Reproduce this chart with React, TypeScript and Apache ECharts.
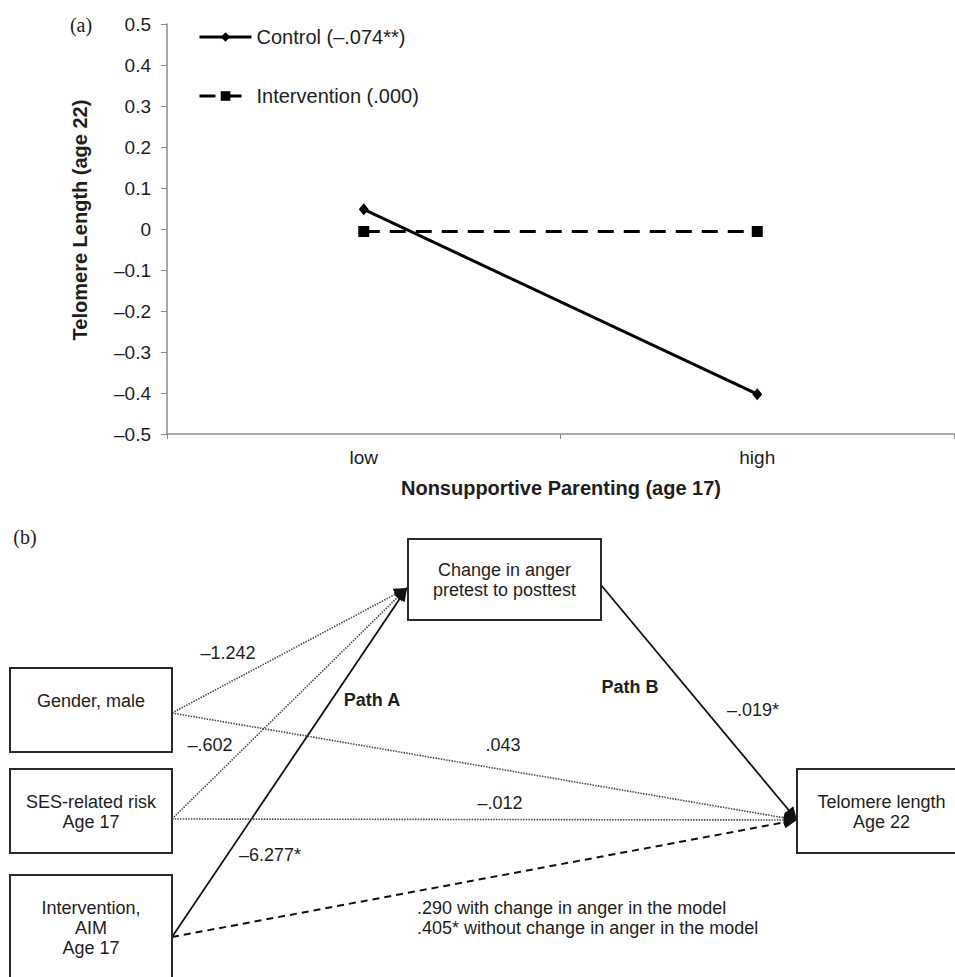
import React, { useEffect, useRef } from 'react';
import * as echarts from 'echarts';

// ---------- Panel (a) data ----------
const categories = ['low', 'high'];
const controlValues = [0.048, -0.403];
const interventionValues = [-0.006, -0.006];
const seriesNames = ['Control (–.074**)', 'Intervention (.000)'];
const yMin = -0.5;
const yMax = 0.5;
const yInterval = 0.1;
const xAxisTitle = 'Nonsupportive Parenting (age 17)';
const yAxisTitle = 'Telomere Length (age 22)';

// ---------- Panel (b) data ----------
const nodeIds = ['change', 'gender', 'ses', 'aim', 'telomere'];
const nodeLabels = [
  'Change in anger\npretest to posttest',
  'Gender, male',
  'SES-related risk\nAge 17',
  'Intervention,\nAIM\nAge 17',
  'Telomere length\nAge 22',
];
const edgeFrom = ['gender', 'ses', 'aim', 'gender', 'ses', 'aim', 'change'];
const edgeTo = ['change', 'change', 'change', 'telomere', 'telomere', 'telomere', 'telomere'];
const edgeKinds = ['dotted', 'dotted', 'solid', 'dotted', 'dotted', 'dashed', 'solid'];
const edgeCoefficients = [
  '–1.242',
  '–.602',
  '–6.277*',
  '.043',
  '–.012',
  '.290 with change in anger in the model\n.405* without change in anger in the model',
  '–.019*',
];
const pathNames = ['Path A', 'Path B'];

// ---------- Layout (positions / styles) ----------
const FONT = '"Liberation Sans", Arial, Helvetica, sans-serif';
const SERIF = '"Liberation Serif", "Times New Roman", serif';
const INK = '#1e1e1e';

const boxLayout: Record<string, { x: number; y: number; w: number; h: number; textTop: number }> = {
  change: { x: 408, y: 539, w: 193, h: 81, textTop: 560 },
  gender: { x: 10, y: 668, w: 162, h: 84, textTop: 691 },
  ses: { x: 10, y: 769, w: 162, h: 84, textTop: 792 },
  aim: { x: 10, y: 875, w: 162, h: 115, textTop: 898 },
  telomere: { x: 797, y: 769, w: 175, h: 84, textTop: 792 },
};
const outAnchor: Record<string, [number, number]> = {
  gender: [172, 713],
  ses: [172, 819],
  aim: [172, 937],
  change: [601, 585],
};
const inAnchor: Record<string, [number, number]> = {
  change: [407, 588],
  telomere: [797, 820],
};
const coefPos: Array<{ x: number; y: number; align: string }> = [
  { x: 228, y: 653, align: 'center' },
  { x: 210, y: 745, align: 'center' },
  { x: 270, y: 855, align: 'center' },
  { x: 503, y: 745, align: 'center' },
  { x: 500, y: 803, align: 'center' },
  { x: 417, y: 918, align: 'left' },
  { x: 753, y: 710, align: 'center' },
];
const pathPos = [
  { x: 372, y: 700 },
  { x: 630, y: 687 },
];

function edgeStyle(kind: string) {
  if (kind === 'dotted') return { stroke: '#4a4a4a', lineWidth: 1.6, lineDash: [1.5, 1.2] };
  if (kind === 'dashed') return { stroke: '#111', lineWidth: 2, lineDash: [7, 5] };
  return { stroke: '#111', lineWidth: 1.8 };
}

function arrowHead(x1: number, y1: number, x2: number, y2: number) {
  const dx = x2 - x1;
  const dy = y2 - y1;
  const len = Math.sqrt(dx * dx + dy * dy);
  const ux = dx / len;
  const uy = dy / len;
  const L = 13;
  const W = 6;
  const bx = x2 - ux * L;
  const by = y2 - uy * L;
  return [
    [x2, y2],
    [bx - uy * W, by + ux * W],
    [bx + uy * W, by - ux * W],
  ];
}

function buildDiagram() {
  const els: any[] = [];
  edgeFrom.forEach((from, i) => {
    const [x1, y1] = outAnchor[from];
    const [x2, y2] = inAnchor[edgeTo[i]];
    els.push({
      type: 'line',
      shape: { x1, y1, x2, y2 },
      style: { ...edgeStyle(edgeKinds[i]), fill: null },
      silent: true,
    });
    els.push({
      type: 'polygon',
      shape: { points: arrowHead(x1, y1, x2, y2) },
      style: { fill: '#111' },
      silent: true,
    });
  });
  nodeIds.forEach((id, i) => {
    const b = boxLayout[id];
    els.push({
      type: 'rect',
      shape: { x: b.x, y: b.y, width: b.w, height: b.h },
      style: { fill: '#fff', stroke: '#2a2a2a', lineWidth: 2 },
      silent: true,
    });
    els.push({
      type: 'text',
      x: b.x + b.w / 2 + (id === 'telomere' ? -3 : 0),
      y: b.textTop,
      style: {
        text: nodeLabels[i],
        fontFamily: FONT,
        fontSize: 18,
        lineHeight: 20,
        fill: INK,
        align: 'center',
        verticalAlign: 'top',
      },
      silent: true,
    });
  });
  edgeCoefficients.forEach((c, i) => {
    const p = coefPos[i];
    els.push({
      type: 'text',
      x: p.x,
      y: p.y,
      style: {
        text: c,
        fontFamily: FONT,
        fontSize: 18,
        lineHeight: 20,
        fill: INK,
        align: p.align,
        verticalAlign: 'middle',
      },
      silent: true,
    });
  });
  pathNames.forEach((n, i) => {
    els.push({
      type: 'text',
      x: pathPos[i].x,
      y: pathPos[i].y,
      style: {
        text: n,
        fontFamily: FONT,
        fontSize: 18,
        fontWeight: 'bold',
        fill: INK,
        align: 'center',
        verticalAlign: 'middle',
      },
      silent: true,
    });
  });
  return els;
}

function fmtTick(v: number) {
  const r = Math.round(v * 10) / 10;
  if (r === 0) return '0';
  if (r < 0) return '–' + Math.abs(r).toFixed(1);
  return r.toFixed(1);
}

export default function App() {
  const ref = useRef<HTMLDivElement>(null);
  useEffect(() => {
    document.body.style.margin = '0';
    if (!ref.current) return;
    const chart = echarts.init(ref.current, undefined, { renderer: 'svg' });
    const axisGray = '#8a8a8a';
    const option: any = {
      animation: false,
      backgroundColor: '#fff',
      textStyle: { fontFamily: FONT },
      grid: { left: 167, right: 1, top: 24, bottom: 543, containLabel: false },
      legend: {
        orient: 'vertical',
        left: 198,
        top: 26,
        padding: 0,
        itemWidth: 52,
        itemHeight: 12,
        itemGap: 37,
        data: seriesNames,
        lineStyle: { width: 3 },
        textStyle: { fontSize: 20, color: INK, lineHeight: 22, fontFamily: FONT },
      },
      xAxis: {
        type: 'category',
        data: categories,
        boundaryGap: true,
        axisLine: { show: true, onZero: false, lineStyle: { color: axisGray, width: 1.5 } },
        axisTick: { show: true, alignWithLabel: false, length: 5, lineStyle: { color: axisGray } },
        axisLabel: { color: INK, fontSize: 19, margin: 14, fontFamily: FONT },
        splitLine: { show: false },
      },
      yAxis: {
        type: 'value',
        min: yMin,
        max: yMax,
        interval: yInterval,
        axisLine: { show: true, lineStyle: { color: axisGray, width: 1.5 } },
        axisTick: { show: true, length: 6, lineStyle: { color: axisGray } },
        axisLabel: { color: INK, fontSize: 19, margin: 16, formatter: fmtTick, fontFamily: FONT },
        splitLine: { show: false },
      },
      series: [
        {
          name: seriesNames[0],
          type: 'line',
          data: controlValues,
          symbol: 'diamond',
          symbolSize: [10, 12],
          showAllSymbol: true,
          lineStyle: { color: '#000', width: 3 },
          itemStyle: { color: '#000' },
        },
        {
          name: seriesNames[1],
          type: 'line',
          data: interventionValues,
          symbol: 'rect',
          symbolSize: 11,
          showAllSymbol: true,
          lineStyle: { color: '#000', width: 3, type: [16, 10] },
          itemStyle: { color: '#000' },
        },
      ],
      graphic: [
        {
          type: 'text',
          x: 81,
          y: 25,
          style: { text: '(a)', fontFamily: SERIF, fontSize: 20, fill: INK, align: 'center', verticalAlign: 'middle' },
        },
        {
          type: 'text',
          x: 80,
          y: 220,
          rotation: Math.PI / 2,
          style: {
            text: yAxisTitle,
            fontFamily: FONT,
            fontSize: 20,
            fontWeight: 'bold',
            fill: INK,
            align: 'center',
            verticalAlign: 'middle',
          },
        },
        {
          type: 'text',
          x: 561,
          y: 488,
          style: {
            text: xAxisTitle,
            fontFamily: FONT,
            fontSize: 20,
            fontWeight: 'bold',
            fill: INK,
            align: 'center',
            verticalAlign: 'middle',
          },
        },
        {
          type: 'text',
          x: 25,
          y: 537,
          style: { text: '(b)', fontFamily: SERIF, fontSize: 20, fill: INK, align: 'center', verticalAlign: 'middle' },
        },
        ...buildDiagram(),
      ],
    };
    chart.setOption(option);
    return () => chart.dispose();
  }, []);
  return (
    <div
      ref={ref}
      style={{ position: 'absolute', left: 0, top: 0, width: 955, height: 977, overflow: 'hidden' }}
    />
  );
}
